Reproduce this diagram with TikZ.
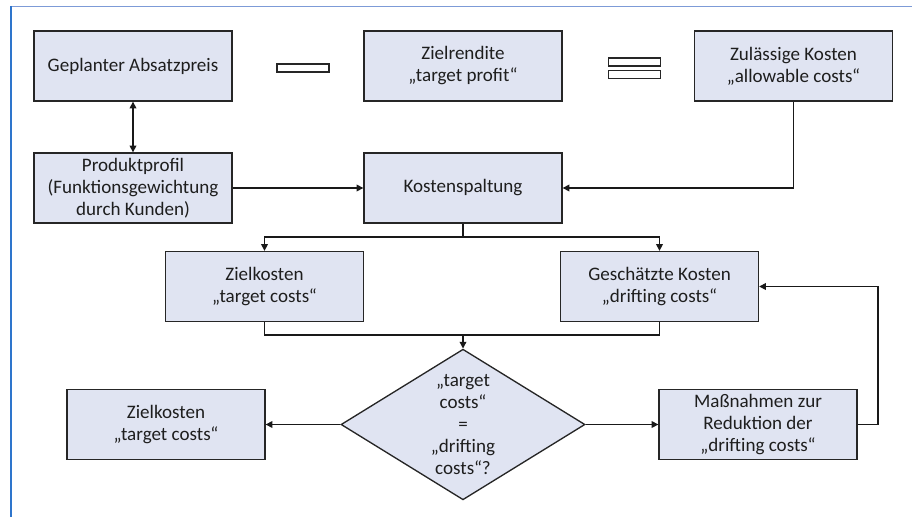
\documentclass[tikz,border=0pt]{standalone}
\usepackage{fontspec}
\setmainfont{Carlito}
\usepackage{tikz}
\usetikzlibrary{shapes.geometric, arrows.meta}
\definecolor{boxfill}{RGB}{224, 228, 242}
\definecolor{frameblue}{RGB}{46, 117, 204}
\definecolor{frametop}{RGB}{125, 155, 215}
\definecolor{inktext}{RGB}{30, 30, 30}

\begin{document}
\begin{tikzpicture}[x=0.75pt, y=-0.75pt, >={Triangle[length=5pt, width=5pt]},
  stage/.style={draw=black!85, line width=1pt, fill=boxfill, minimum width=148.5pt,
    minimum height=52.5pt, inner sep=2pt, align=center, text=inktext,
    font=\fontsize{14.3}{16.5}\selectfont},
  decide/.style={diamond, draw=black!85, line width=1pt, fill=boxfill, aspect=1.6,
    minimum width=183pt, minimum height=113pt, inner sep=0pt, align=center,
    text=inktext, font=\fontsize{14.3}{16.5}\selectfont},
  bar/.style={draw=black!85, line width=0.8pt, fill=white, minimum width=39pt,
    minimum height=6pt, inner sep=0pt},
  link/.style={line width=1pt, black!90}]
  \useasboundingbox (0,0) rectangle (912,517);

  % frame lines
  \draw[frametop, line width=1.2pt] (11,6.5) -- (912,6.5);
  \draw[frameblue, line width=1.5pt] (11,6) -- (11,517);

  % top row: price - profit = allowable costs
  \node[stage] (preis) at (133,66) {Geplanter Absatzpreis};
  \node[bar] (minus) at (303,68) {};
  \node[stage] (rendite) at (463,66) {Zielrendite\\„target profit“};
  \node[bar] (gleich1) at (634.5,62) {};
  \node[bar] (gleich2) at (634.5,74.5) {};
  \node[stage] (zulaessig) at (793.5,66) {Zulässige Kosten\\„allowable costs“};

  \node[stage] (profil) at (133,188) {Produktprofil\\(Funktionsgewichtung\\durch Kunden)};
  \node[stage] (spaltung) at (463,188) {Kostenspaltung};

  \node[stage] (ziel) at (264.5,286.5) {Zielkosten\\„target costs“};
  \node[stage] (drift) at (659.5,286.5) {Geschätzte Kosten\\„drifting costs“};

  \node[decide] (vergleich) at (463,424.5) {„target\\costs“\\=\\„drifting\\costs“?};
  \node[stage] (zielend) at (166,424.5) {Zielkosten\\„target costs“};
  \node[stage] (massnahmen) at (758,424.5) {Maßnahmen zur\\Reduktion der\\„drifting costs“};

  \coordinate (teilung) at (463,237);
  \coordinate (treffen) at (463,335);
  \coordinate (rueck) at (878,424.5);

  % connectors
  \draw[link, <->] (preis) -- (profil);
  \draw[link, ->] (profil) -- (spaltung);
  \draw[link, ->] (zulaessig.south) |- (spaltung.east);
  \draw[link] (spaltung.south) -- (teilung);
  \draw[link, ->] (teilung) -| (ziel.north);
  \draw[link, ->] (teilung) -| (drift.north);
  \draw[link] (ziel.south) |- (treffen);
  \draw[link] (drift.south) |- (treffen);
  \draw[link, ->] (treffen) -- (vergleich.north);
  \draw[link, ->] (vergleich.west) -- (zielend.east);
  \draw[link, ->] (vergleich.east) -- (massnahmen.west);
  \draw[link, ->] (massnahmen.east) -- (rueck) |- (drift.east);
\end{tikzpicture}
\end{document}
